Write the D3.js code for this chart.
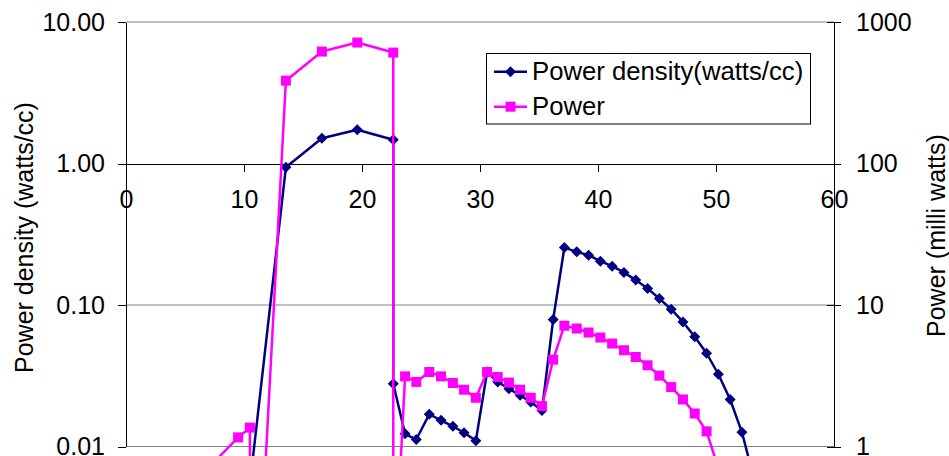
<!DOCTYPE html>
<html>
<head>
<meta charset="utf-8">
<script src="https://d3js.org/d3.v7.min.js"></script>
<style>
  body { margin: 0; background: #fff; }
  svg { display: block; font-family: "Liberation Sans", Arial, sans-serif; }
</style>
</head>
<body>
<div id="my_dataviz"></div>
<script>
// position along the device (x) for each series
var densityX = [10.5, 13.55, 16.6, 19.6, 22.65, 22.65, 23.65, 24.6, 25.7, 26.7, 27.7, 28.65, 29.65,
  30.6, 31.5, 32.45, 33.4, 34.3, 35.25, 36.2, 37.15, 38.2, 39.2, 40.2, 41.2, 42.2, 43.2, 44.2,
  45.2, 46.2, 47.2, 48.2, 49.2, 50.2, 51.2, 52.2, 53.2];
var densityVals = [0.0054, 0.94, 1.51, 1.73, 1.47, 0.0278, 0.0123, 0.0112, 0.0169, 0.0153, 0.0139, 0.0125, 0.0110,
  0.0336, 0.0286, 0.0256, 0.0230, 0.0206, 0.0180, 0.0789, 0.2545, 0.2375, 0.225, 0.204, 0.188, 0.170, 0.150, 0.131,
  0.111, 0.0934, 0.0759, 0.0597, 0.0456, 0.0324, 0.0215, 0.0126, 0.006];

var powerX = [7.5, 9.5, 10.5, 10.5, 13.55, 16.6, 19.6, 22.65, 22.65, 23.65, 24.6, 25.7, 26.7, 27.7, 28.65, 29.65,
  30.6, 31.5, 32.45, 33.4, 34.3, 35.25, 36.2, 37.15, 38.2, 39.2, 40.2, 41.2, 42.2, 43.2, 44.2,
  45.2, 46.2, 47.2, 48.2, 49.2, 50.2];
var powerVals = [0.78, 1.16, 1.36, 0.0065, 385, 618, 716, 608, 0.075, 3.13, 2.86, 3.36, 3.13, 2.81, 2.52, 2.21,
  3.36, 3.10, 2.83, 2.52, 2.21, 1.93, 4.11, 7.14, 6.82, 6.39, 5.89, 5.34, 4.79, 4.29, 3.75,
  3.17, 2.63, 2.15, 1.71, 1.28, 0.7];

var xTicks = [0, 10, 20, 30, 40, 50, 60];
var leftTicks = [0.01, 0.1, 1, 10];
var rightTicks = [1, 10, 100, 1000];
var seriesNames = ["Power density(watts/cc)", "Power"];

var width = 949, height = 456;
var plot = { left: 126, right: 834, top: 22, bottom: 446.5 };
var fontSize = 25;

var svg = d3.select("#my_dataviz")
  .append("svg")
  .attr("width", width)
  .attr("height", height)
  .style("font-size", fontSize + "px");

svg.append("rect").attr("width", width).attr("height", height).attr("fill", "#fff");

var x = d3.scaleLinear().domain([0, 60]).range([plot.left, plot.right]);
var yL = d3.scaleLog().domain([0.01, 10]).range([plot.bottom, plot.top]);
var yR = d3.scaleLog().domain([1, 1000]).range([plot.bottom, plot.top]);

// gridlines (the 1.00 one is the x axis)
svg.append("g")
  .selectAll("line")
  .data(leftTicks.filter(d => d !== 1))
  .enter()
  .append("line")
  .attr("x1", plot.left).attr("x2", plot.right)
  .attr("y1", d => yL(d)).attr("y2", d => yL(d))
  .attr("stroke", "#808080")
  .attr("stroke-width", 1);

// left axis
var gl = svg.append("g")
  .attr("transform", "translate(" + plot.left + ",0)")
  .call(d3.axisLeft(yL).tickValues(leftTicks).tickFormat(d3.format(".2f")).tickSize(8).tickSizeOuter(0).tickPadding(13));

// right axis, ticks cross the line
var gr = svg.append("g")
  .attr("transform", "translate(" + plot.right + ",0)")
  .call(d3.axisRight(yR).tickValues(rightTicks).tickFormat(d3.format("d")).tickSize(7).tickSizeOuter(0).tickPadding(15));
gr.selectAll(".tick line").attr("x1", -7);

// x axis crossing at 1.00
var gx = svg.append("g")
  .attr("transform", "translate(0," + yL(1) + ")")
  .call(d3.axisBottom(x).tickValues(xTicks).tickSize(8).tickSizeOuter(0));
gx.selectAll(".tick text").attr("y", 26.5);

[gl, gr, gx].forEach(function (g) {
  g.attr("font-size", null).attr("font-family", null);
  g.selectAll("path, line").attr("stroke", "#000").attr("stroke-width", 1).attr("shape-rendering", "crispEdges");
  g.selectAll("text").attr("fill", "#000");
});

// axis titles
svg.append("text")
  .attr("transform", "translate(33,373) rotate(-90)")
  .text("Power density (watts/cc)");
svg.append("text")
  .attr("transform", "translate(945,337) rotate(-90)")
  .text("Power (milli watts)");

var navy = "#000080", magenta = "#FF00FF";

function drawSeries(xs, vals, yScale, color, shape) {
  var pts = xs.map((d, i) => [x(d), yScale(vals[i])]);
  svg.append("path")
    .datum(pts)
    .attr("fill", "none")
    .attr("stroke", color)
    .attr("stroke-width", 2.5)
    .attr("stroke-linejoin", "round")
    .attr("d", d3.line());
  svg.append("g")
    .selectAll("path")
    .data(pts)
    .enter()
    .append("path")
    .attr("transform", d => "translate(" + d[0] + "," + d[1] + ")")
    .attr("d", shape)
    .attr("fill", color);
}

var diamond = "M0,-5.5L5.5,0L0,5.5L-5.5,0Z";
var square = "M-5,-5H5V5H-5Z";

drawSeries(densityX, densityVals, yL, navy, diamond);
drawSeries(powerX, powerVals, yR, magenta, square);

// legend
var legend = svg.append("g").style("font-size", "25.7px");
legend.append("rect")
  .attr("x", 486.5).attr("y", 53.5)
  .attr("width", 324).attr("height", 70.5)
  .attr("fill", "#fff")
  .attr("stroke", "#000")
  .attr("stroke-width", 1);

var items = [
  { name: seriesNames[0], color: navy, shape: diamond, y: 71.7 },
  { name: seriesNames[1], color: magenta, shape: square, y: 106.7 }
];
items.forEach(function (it) {
  legend.append("line")
    .attr("x1", 494).attr("x2", 527)
    .attr("y1", it.y).attr("y2", it.y)
    .attr("stroke", it.color).attr("stroke-width", 2.5);
  legend.append("path")
    .attr("transform", "translate(510.5," + it.y + ")")
    .attr("d", it.shape)
    .attr("fill", it.color);
  legend.append("text")
    .attr("x", 532)
    .attr("y", it.y + 8.5)
    .text(it.name);
});
</script>
</body>
</html>
